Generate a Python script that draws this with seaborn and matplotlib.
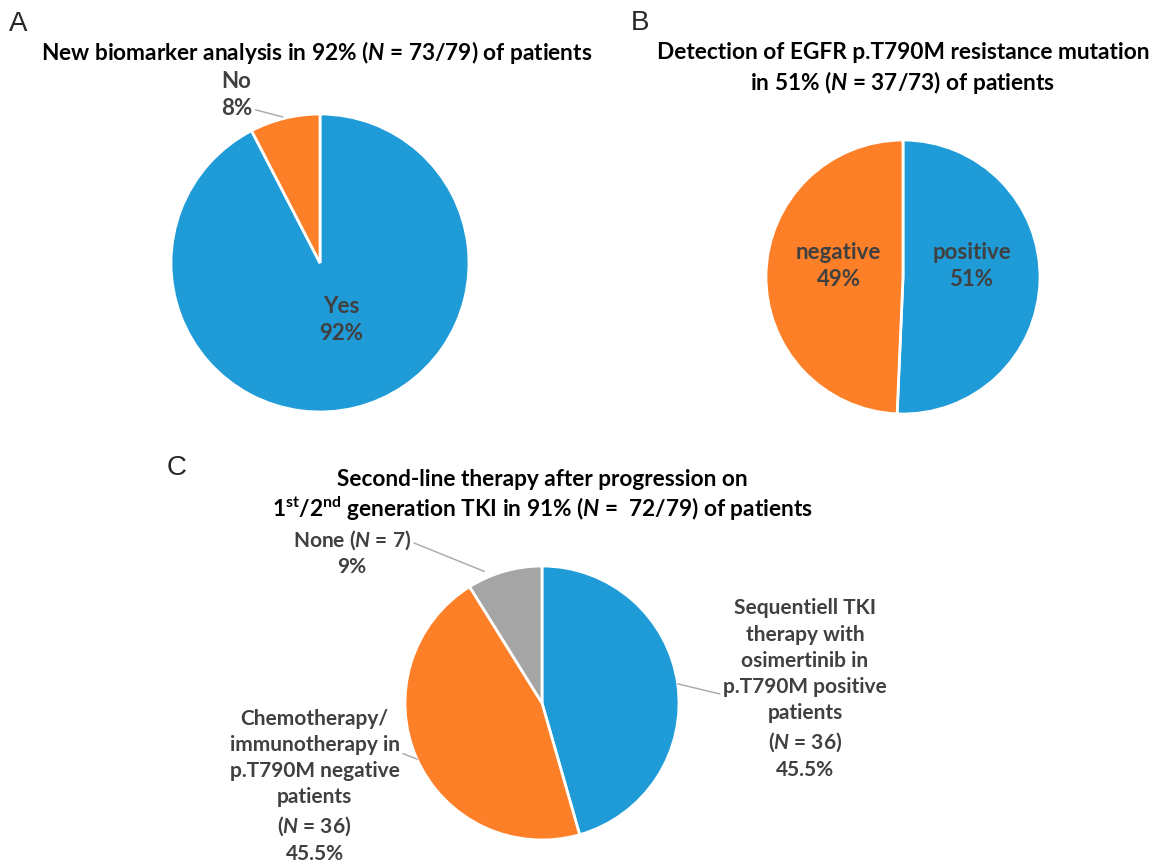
import matplotlib
matplotlib.use("Agg")
import matplotlib.pyplot as plt
import seaborn as sns

sns.set_theme(style="white")
plt.rcParams["font.family"] = ["Lato", "DejaVu Sans"]
plt.rcParams["mathtext.fontset"] = "custom"
plt.rcParams["mathtext.rm"] = "Lato:bold"
plt.rcParams["mathtext.it"] = "Lato:bold:italic"
plt.rcParams["mathtext.bf"] = "Lato:bold"

# ---- data ----
a_labels = ["Yes", "No"]
a_counts = [73, 6]
a_pct = ["92%", "8%"]

b_labels = ["positive", "negative"]
b_counts = [37, 36]
b_pct = ["51%", "49%"]

c_labels = ["Sequentiell TKI\ntherapy with\nosimertinib in\np.T790M positive\npatients\n($\\mathit{N}$ = 36)",
            "Chemotherapy/\nimmunotherapy in\np.T790M negative\npatients\n($\\mathit{N}$ = 36)",
            "None ($\\mathit{N}$ = 7)"]
c_counts = [36, 36, 7]
c_pct = ["45.5%", "45.5%", "9%"]

BLUE = "#1F9BD7"
ORANGE = "#FD7F27"
GREY = "#A5A5A5"
LABEL = "#404040"

W, H = 1155, 865
fig = plt.figure(figsize=(W / 100, H / 100), dpi=100)


def pie_axes(cx, cy, r):
    ax = fig.add_axes([(cx - r) / W, (H - cy - r) / H, 2 * r / W, 2 * r / H])
    ax.axis("off")
    return ax


def draw_pie(ax, counts, colors):
    ax.pie(counts, colors=colors, startangle=90, counterclock=False, radius=1,
           wedgeprops=dict(edgecolor="white", linewidth=2))
    ax.set_xlim(-1, 1)
    ax.set_ylim(-1, 1)


def fig_text(x, y, s, **kw):
    fig.text(x / W, 1 - y / H, s, **kw)


lab_kw = dict(color=LABEL, fontweight="bold", ha="center", va="center")
line_kw = dict(arrowstyle="-", color="#A6A6A6", lw=1, shrinkA=0, shrinkB=0)
TITLE = 16.3

# ---- panel A ----
axA = pie_axes(320, 263, 149)
draw_pie(axA, a_counts, [BLUE, ORANGE])
axA.text(0.14, -0.38, f"{a_labels[0]}\n{a_pct[0]}", fontsize=16,
         linespacing=1.34, **lab_kw)
axA.annotate(f"{a_labels[1]}\n{a_pct[1]}", xy=(-0.25, 0.98), xytext=(-0.56, 1.13),
             fontsize=16, annotation_clip=False, linespacing=1.34,
             arrowprops=dict(relpos=(1.0, 0.2), **line_kw), **lab_kw)

fig_text(9, 24, "A", fontsize=20, family="Liberation Sans", va="center", ha="left")
fig_text(317, 52, "New biomarker analysis in 92% ($\\mathit{N}$ = 73/79) of patients",
         fontsize=TITLE, fontweight="bold", ha="center", va="center", color="black")

# ---- panel B ----
axB = pie_axes(903, 277, 137)
draw_pie(axB, b_counts, [BLUE, ORANGE])
axB.text(0.50, 0.08, f"{b_labels[0]}\n{b_pct[0]}", fontsize=16,
         linespacing=1.34, **lab_kw)
axB.text(-0.47, 0.08, f"{b_labels[1]}\n{b_pct[1]}", fontsize=16,
         linespacing=1.34, **lab_kw)

fig_text(631, 23, "B", fontsize=20, family="Liberation Sans", va="center", ha="left")
fig_text(903, 69, "Detection of EGFR p.T790M resistance mutation\nin 51% ($\\mathit{N}$ = 37/73) of patients",
         fontsize=TITLE, fontweight="bold", ha="center", va="center", color="black",
         linespacing=1.3)

# ---- panel C ----
axC = pie_axes(542, 703, 137)
draw_pie(axC, c_counts, [BLUE, ORANGE, GREY])
axC.annotate(f"{c_labels[0]}\n{c_pct[0]}", xy=(0.99, 0.14), xytext=(1.92, 0.10),
             fontsize=15, annotation_clip=False, linespacing=1.39,
             arrowprops=dict(relpos=(0.0, 0.47), **line_kw), **lab_kw)
axC.annotate(f"{c_labels[1]}\n{c_pct[1]}", xy=(-0.91, -0.41), xytext=(-1.66, -0.61),
             fontsize=15, annotation_clip=False, linespacing=1.39,
             arrowprops=dict(relpos=(1.0, 0.72), **line_kw), **lab_kw)
axC.annotate(f"{c_labels[2]}\n{c_pct[2]}", xy=(-0.42, 0.96), xytext=(-1.39, 1.10),
             fontsize=15, annotation_clip=False, linespacing=1.3,
             arrowprops=dict(relpos=(1.0, 0.72), **line_kw), **lab_kw)

fig_text(167, 468, "C", fontsize=20, family="Liberation Sans", va="center", ha="left")
fig_text(542, 496, "Second-line therapy after progression on\n"
         "$1^{\\mathrm{st}}$/$2^{\\mathrm{nd}}$ generation TKI in 91% ($\\mathit{N}$ =  72/79) of patients",
         fontsize=TITLE, fontweight="bold", ha="center", va="center", color="black",
         linespacing=1.2)

fig.savefig("out.png", dpi=100, facecolor="white")
